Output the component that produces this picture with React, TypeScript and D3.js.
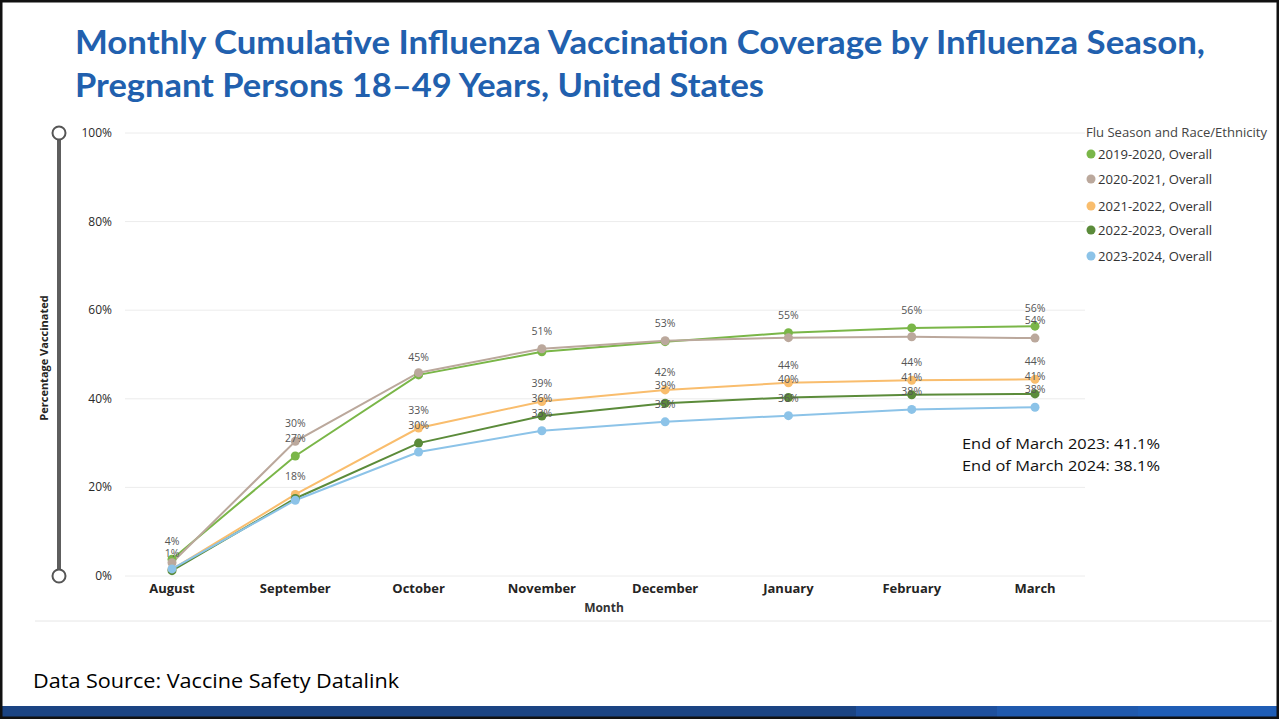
import React from "react";
import * as d3 from "d3";

const months = ["August", "September", "October", "November", "December", "January", "February", "March"];
const seasons = ["2019-2020, Overall", "2020-2021, Overall", "2021-2022, Overall", "2022-2023, Overall", "2023-2024, Overall"];
const colors = ["#7ab648", "#bba89c", "#f9bd6d", "#5b8b3a", "#8cc3e8"];

const s2019 = [3.8, 27.1, 45.4, 50.6, 52.9, 54.9, 56.0, 56.4];
const s2020 = [3.0, 30.4, 45.9, 51.3, 53.1, 53.8, 54.0, 53.7];
const s2021 = [1.5, 18.4, 33.4, 39.4, 42.0, 43.6, 44.2, 44.4];
const s2022 = [1.2, 17.5, 30.0, 36.1, 39.0, 40.3, 40.9, 41.1];
const s2023 = [1.6, 17.1, 28.0, 32.8, 34.8, 36.2, 37.6, 38.1];

const show2019 = [true, true, true, false, false, true, true, true];
const show2020 = [false, true, false, true, true, false, false, true];
const show2021 = [false, true, true, true, true, true, true, true];
const show2022 = [true, false, true, true, true, true, true, true];
const show2023 = [false, false, false, true, true, true, true, true];

const yTicks = [0, 20, 40, 60, 80, 100];
const titleLines = [
  "Monthly Cumulative Influenza Vaccination Coverage by Influenza Season,",
  "Pregnant Persons 18\u201349 Years, United States",
];
const notes = ["End of March 2023: 41.1%", "End of March 2024: 38.1%"];

const seriesValues = [s2019, s2020, s2021, s2022, s2023];
const seriesShow = [show2019, show2020, show2021, show2022, show2023];

const UI = "'Open Sans', 'Noto Sans', sans-serif";

export default function App() {
  const x = d3.scalePoint<string>().domain(months).range([172, 1035]);
  const y = d3.scaleLinear().domain([0, 100]).range([576, 133]);
  const line = d3
    .line<number>()
    .x((_, i) => x(months[i]) as number)
    .y((d) => y(d));

  const barSegs = [
    { x0: 0, x1: 856, c: "#1b4483" },
    { x0: 856, x1: 997, c: "#1e509e" },
    { x0: 997, x1: 1138, c: "#2059ad" },
    { x0: 1138, x1: 1279, c: "#1f5db5" },
  ];

  return (
    <div>
      <style>{`body{margin:0;}`}</style>
      <svg width={1279} height={719} style={{ display: "block", background: "#fff" }}>
        {/* title */}
        <text x={75} y={54} fill="#2160ae" fontFamily="Lato, 'Open Sans', sans-serif" fontWeight={700} fontSize={32} textLength={1130} lengthAdjust="spacingAndGlyphs">
          {titleLines[0]}
        </text>
        <text x={75} y={97} fill="#2160ae" fontFamily="Lato, 'Open Sans', sans-serif" fontWeight={700} fontSize={32} textLength={689} lengthAdjust="spacingAndGlyphs">
          {titleLines[1]}
        </text>

        {/* gridlines */}
        {yTicks.map((t) => (
          <g key={t}>
            <line x1={125} x2={1085} y1={y(t)} y2={y(t)} stroke="#ececec" strokeWidth={1} />
            <text x={112} y={y(t) + 4} textAnchor="end" fontFamily={UI} fontSize={12} fontWeight={500} fill="#2a2a2a">
              {t}%
            </text>
          </g>
        ))}

        {/* slider */}
        <line x1={59} x2={59} y1={y(100)} y2={y(0)} stroke="#5e5e5e" strokeWidth={4} />
        <circle cx={59} cy={y(100)} r={6.5} fill="#fff" stroke="#555" strokeWidth={2} />
        <circle cx={59} cy={y(0)} r={6.5} fill="#fff" stroke="#555" strokeWidth={2} />

        {/* y axis title */}
        <text transform={`translate(48,358) rotate(-90)`} textAnchor="middle" fontFamily={UI} fontWeight={700} fontSize={11} fill="#252423">
          Percentage Vaccinated
        </text>

        {/* x labels */}
        {months.map((m) => (
          <text key={m} x={x(m)} y={593} textAnchor="middle" fontFamily={UI} fontWeight={700} fontSize={13} fill="#252423">
            {m}
          </text>
        ))}
        <text x={604} y={612} textAnchor="middle" fontFamily={UI} fontWeight={700} fontSize={12} fill="#333">
          Month
        </text>

        {/* lines */}
        {seriesValues.map((vals, si) => (
          <path key={si} d={line(vals) || ""} fill="none" stroke={colors[si]} strokeWidth={2} />
        ))}
        {seriesValues.map((vals, si) =>
          vals.map((v, i) => (
            <circle key={`${si}-${i}`} cx={x(months[i])} cy={y(v)} r={4.5} fill={colors[si]} />
          ))
        )}
        {/* data labels */}
        {seriesValues.map((vals, si) =>
          vals.map((v, i) =>
            seriesShow[si][i] ? (
              <text key={`l${si}-${i}`} x={x(months[i])} y={y(v) - 14} textAnchor="middle" fontFamily={UI} fontSize={10.5} fill="#555">
                {Math.round(v)}%
              </text>
            ) : null
          )
        )}

        {/* legend */}
        <text x={1086} y={137} fontFamily={UI} fontSize={12.5} fill="#444" textLength={181} lengthAdjust="spacingAndGlyphs">
          Flu Season and Race/Ethnicity
        </text>
        {seasons.map((s, i) => {
          const ly = [154, 179, 206, 230, 256][i];
          return (
            <g key={s}>
              <circle cx={1091} cy={ly} r={4.5} fill={colors[i]} />
              <text x={1098} y={ly + 4.5} fontFamily={UI} fontSize={12.5} fill="#333" textLength={114} lengthAdjust="spacingAndGlyphs">
                {s}
              </text>
            </g>
          );
        })}

        {/* annotations */}
        {notes.map((n, i) => (
          <text key={n} x={962} y={449 + i * 22} fontFamily={UI} fontSize={14.5} fill="#111" textLength={198} lengthAdjust="spacingAndGlyphs">
            {n}
          </text>
        ))}

        {/* bottom rule */}
        <line x1={35} x2={1272} y1={621} y2={621} stroke="#e6e6e6" strokeWidth={1} />

        {/* data source */}
        <text x={33} y={688} fontFamily={UI} fontSize={20} fill="#000" textLength={366} lengthAdjust="spacingAndGlyphs">
          Data Source: Vaccine Safety Datalink
        </text>

        {/* bottom bar */}
        {barSegs.map((b, i) => (
          <rect key={i} x={b.x0} y={706} width={b.x1 - b.x0} height={12} fill={b.c} />
        ))}

        {/* frame */}
        <rect x={1} y={1} width={1277} height={717} fill="none" stroke="#111" strokeWidth={3} />
      </svg>
    </div>
  );
}
